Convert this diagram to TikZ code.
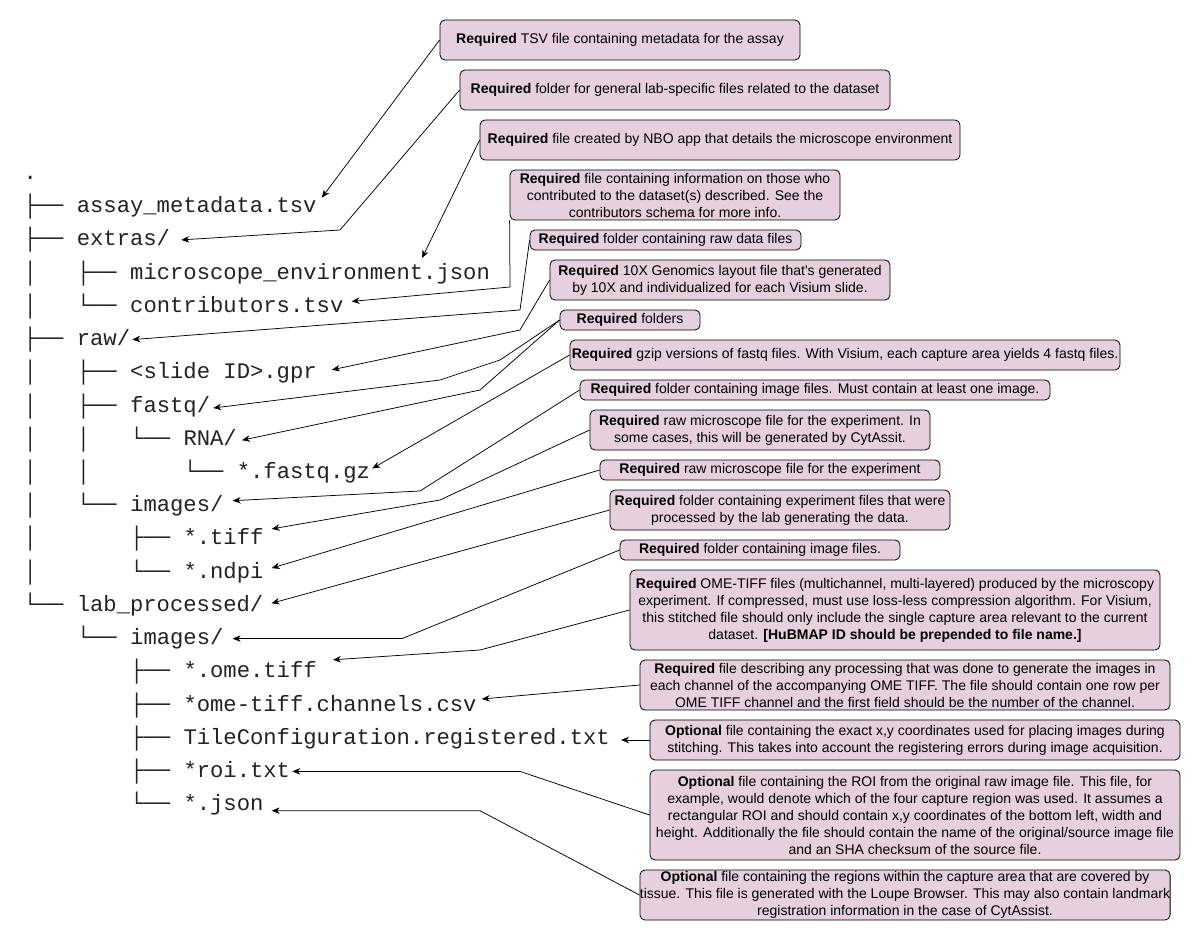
\documentclass[tikz,border=0pt]{standalone}
\usepackage{fontspec}
\usetikzlibrary{calc,arrows.meta}
\newfontfamily\notefont{Liberation Sans}
\newfontfamily\treefont{Liberation Mono}
\newfontfamily\guidefont{Liberation Mono}
\definecolor{notefill}{HTML}{E6D0DE}
\definecolor{treeink}{HTML}{222222}

\begin{document}
\begin{tikzpicture}[x=1pt,y=-1pt,
  note/.style={draw=black, fill=notefill, rounded corners=5pt, line width=0.8pt,
    inner sep=0pt, align=center, text=black,
    font=\notefont\fontsize{14}{17}\selectfont},
  entry/.style={anchor=base west, inner sep=0pt, text height=17pt, text depth=5pt,
    text=treeink, font=\treefont\fontsize{22.2}{26}\selectfont},
  guide/.style={anchor=base west, inner sep=0pt, text=treeink,
    font=\guidefont\fontsize{22.2}{26}\selectfont},
  link/.style={draw=black, line width=0.75pt,
    -{Stealth[length=8pt,width=6.5pt,inset=2.5pt]}},
]
\useasboundingbox (0,0) rectangle (1201,941);

% ---------- directory tree ----------
\node[entry] (root) at (23.3,179.5) {.};

% row 0: assay_metadata.tsv
\node[guide] (g0a) at (23.3,212.7) {├──};
\node[entry] (t0) at (76.6,212.7) {assay\_metadata.tsv};
% row 1: extras/
\node[guide] (g1a) at (23.3,245.9) {├──};
\node[entry] (t1) at (76.6,245.9) {extras/};
% row 2
\node[guide] (g2a) at (23.3,279.1) {│};
\node[guide] (g2b) at (76.6,279.1) {├──};
\node[entry] (t2) at (130,279.1) {microscope\_environment.json};
% row 3
\node[guide] (g3a) at (23.3,312.4) {│};
\node[guide] (g3b) at (76.6,312.4) {└──};
\node[entry] (t3) at (130,312.4) {contributors.tsv};
% row 4: raw/
\node[guide] (g4a) at (23.3,345.6) {├──};
\node[entry] (t4) at (76.6,345.6) {raw/};
% row 5
\node[guide] (g5a) at (23.3,378.8) {│};
\node[guide] (g5b) at (76.6,378.8) {├──};
\node[entry] (t5) at (130,378.8) {<slide ID>.gpr};
% row 6
\node[guide] (g6a) at (23.3,412.0) {│};
\node[guide] (g6b) at (76.6,412.0) {├──};
\node[entry] (t6) at (130,412.0) {fastq/};
% row 7
\node[guide] (g7a) at (23.3,445.2) {│};
\node[guide] (g7b) at (76.6,445.2) {│};
\node[guide] (g7c) at (130,445.2) {└──};
\node[entry] (t7) at (183.3,445.2) {RNA/};
% row 8
\node[guide] (g8a) at (23.3,478.5) {│};
\node[guide] (g8b) at (76.6,478.5) {│};
\node[guide] (g8c) at (183.3,478.5) {└──};
\node[entry] (t8) at (236.6,478.5) {*.fastq.gz};
% row 9
\node[guide] (g9a) at (23.3,511.7) {│};
\node[guide] (g9b) at (76.6,511.7) {└──};
\node[entry] (t9) at (130,511.7) {images/};
% row 10
\node[guide] (g10a) at (23.3,544.9) {│};
\node[guide] (g10b) at (130,544.9) {├──};
\node[entry] (t10) at (183.3,544.9) {*.tiff};
% row 11
\node[guide] (g11a) at (23.3,578.1) {│};
\node[guide] (g11b) at (130,578.1) {└──};
\node[entry] (t11) at (183.3,578.1) {*.ndpi};
% row 12: lab_processed/
\node[guide] (g12a) at (23.3,611.3) {└──};
\node[entry] (t12) at (76.6,611.3) {lab\_processed/};
% row 13
\node[guide] (g13a) at (76.6,644.6) {└──};
\node[entry] (t13) at (130,644.6) {images/};
% rows 14-18
\node[guide] (g14a) at (130,677.8) {├──};
\node[entry] (t14) at (183.3,677.8) {*.ome.tiff};
\node[guide] (g15a) at (130,711.0) {├──};
\node[entry] (t15) at (183.3,711.0) {*ome-tiff.channels.csv};
\node[guide] (g16a) at (130,744.2) {├──};
\node[entry] (t16) at (183.3,744.2) {TileConfiguration.registered.txt};
\node[guide] (g17a) at (130,777.4) {├──};
\node[entry] (t17) at (183.3,777.4) {*roi.txt};
\node[guide] (g18a) at (130,810.7) {└──};
\node[entry] (t18) at (183.3,810.7) {*.json};

% ---------- notes ----------
\node[note, minimum width=360pt, minimum height=40pt] (b1) at (620,40)
  {\textbf{Required} TSV file containing metadata for the assay};
\node[note, minimum width=430pt, minimum height=40pt] (b2) at (675,90)
  {\textbf{Required} folder for general lab-specific files related to the dataset};
\node[note, minimum width=480pt, minimum height=40pt] (b3) at (720,140)
  {\textbf{Required} file created by NBO app that details the microscope environment};
\node[note, minimum width=330pt, minimum height=50pt] (b4) at (675,195)
  {\textbf{Required} file containing information on those who\\
   contributed to the dataset(s) described. See the\\
   contributors schema for more info.};
\node[note, minimum width=271pt, minimum height=20pt] (b5) at (665.5,240)
  {\textbf{Required} folder containing raw data files};
\node[note, minimum width=340pt, minimum height=40pt] (b6) at (720,280)
  {\textbf{Required} 10X Genomics layout file that's generated\\
   by 10X and individualized for each Visium slide.};
\node[note, minimum width=140pt, minimum height=20pt] (b7) at (630,320)
  {\textbf{Required} folders};
\node[note, minimum width=550pt, minimum height=30pt] (b8) at (845,355)
  {\textbf{Required} gzip versions of fastq files. With Visium, each capture area yields 4 fastq files.};
\node[note, minimum width=470pt, minimum height=20pt] (b9) at (815,390)
  {\textbf{Required} folder containing image files. Must contain at least one image.};
\node[note, minimum width=340pt, minimum height=40pt] (b10) at (760,430)
  {\textbf{Required} raw microscope file for the experiment. In\\
   some cases, this will be generated by CytAssit.};
\node[note, minimum width=340pt, minimum height=20pt] (b11) at (770,470)
  {\textbf{Required} raw microscope file for the experiment};
\node[note, minimum width=340pt, minimum height=40pt] (b12) at (780,510)
  {\textbf{Required} folder containing experiment files that were\\
   processed by the lab generating the data.};
\node[note, minimum width=280pt, minimum height=20pt] (b13) at (760,550)
  {\textbf{Required} folder containing image files.};
\node[note, minimum width=530pt, minimum height=80pt] (b14) at (895,610)
  {\textbf{Required} OME-TIFF files (multichannel, multi-layered) produced by the microscopy\\
   experiment. If compressed, must use loss-less compression algorithm. For Visium,\\
   this stitched file should only include the single capture area relevant to the current\\
   dataset. \textbf{[HuBMAP ID should be prepended to file name.]}};
\node[note, minimum width=530pt, minimum height=50pt] (b15) at (905,685)
  {\textbf{Required} file describing any processing that was done to generate the images in\\
   each channel of the accompanying OME TIFF. The file should contain one row per\\
   OME TIFF channel and the first field should be the number of the channel.};
\node[note, minimum width=530pt, minimum height=40pt] (b16) at (915,740)
  {\textbf{Optional} file containing the exact x,y coordinates used for placing images during\\
   stitching. This takes into account the registering errors during image acquisition.};
\node[note, minimum width=530pt, minimum height=90pt] (b17) at (915,815)
  {\textbf{Optional} file containing the ROI from the original raw image file. This file, for\\
   example, would denote which of the four capture region was used. It assumes a\\
   rectangular ROI and should contain x,y coordinates of the bottom left, width and\\
   height. Additionally the file should contain the name of the original/source image file\\
   and an SHA checksum of the source file.};
\node[note, minimum width=530pt, minimum height=50pt] (b18) at (905,895)
  {\textbf{Optional} file containing the regions within the capture area that are covered by\\
   tissue. This file is generated with the Loupe Browser. This may also contain landmark\\
   registration information in the case of CytAssist.};

% ---------- connectors ----------
\draw[link] (b1.west) -- ($(t0.east)+(5pt,9pt)$);
\draw[link] (b2.west) -- (340,230) -- ($(t1.east)+(11pt,0pt)$);
\draw[link] (b3.west) -- ($(t2.west)+(292pt,15pt)$);
\draw[link] (b4.south west) -- (510,287) -- ($(t3.east)+(8pt,5pt)$);
\draw[link] (b5.west) -- (520,310) -- ($(t4.east)+(2pt,0pt)$);
\draw[link] (b6.west) -- (520,330) -- ($(t5.east)+(15pt,3pt)$);
\draw[link] (b7.west) -- (500,360) -- (440,380) -- ($(t6.east)+(3pt,-2pt)$);
\draw[link] (b7.west) -- (480,390) -- ($(t7.east)+(5pt,-1pt)$);
\draw[link] (b8.west) -- ($(t8.east)+(2pt,4pt)$);
\draw[link] (b9.west) -- (420,491) -- ($(t9.east)+(9pt,5pt)$);
\draw[link] (b10.west) -- (440,500) -- ($(t10.east)+(8pt,10pt)$);
\draw[link] (b11.west) -- ($(t11.east)+(8pt,4pt)$);
\draw[link] (b12.west) -- ($(t12.east)+(8pt,2pt)$);
\draw[link] (b13.west) -- (402,638.6) -- ($(t13.east)+(9pt,0pt)$);
\draw[link] (b14.west) -- (480,650) -- ($(t14.east)+(16pt,12pt)$);
\draw[link] (b15.west) -- ($(t15.east)+(5pt,6pt)$);
\draw[link] (b16.west) -- ($(t16.east)+(11pt,-1.8pt)$);
\draw[link] (b17.west) -- (520,771.4) -- ($(t17.east)+(2pt,0pt)$);
\draw[link] (b18.west) -- (480,810.7) -- ($(t18.east)+(8pt,-6pt)$);
\end{tikzpicture}
\end{document}
